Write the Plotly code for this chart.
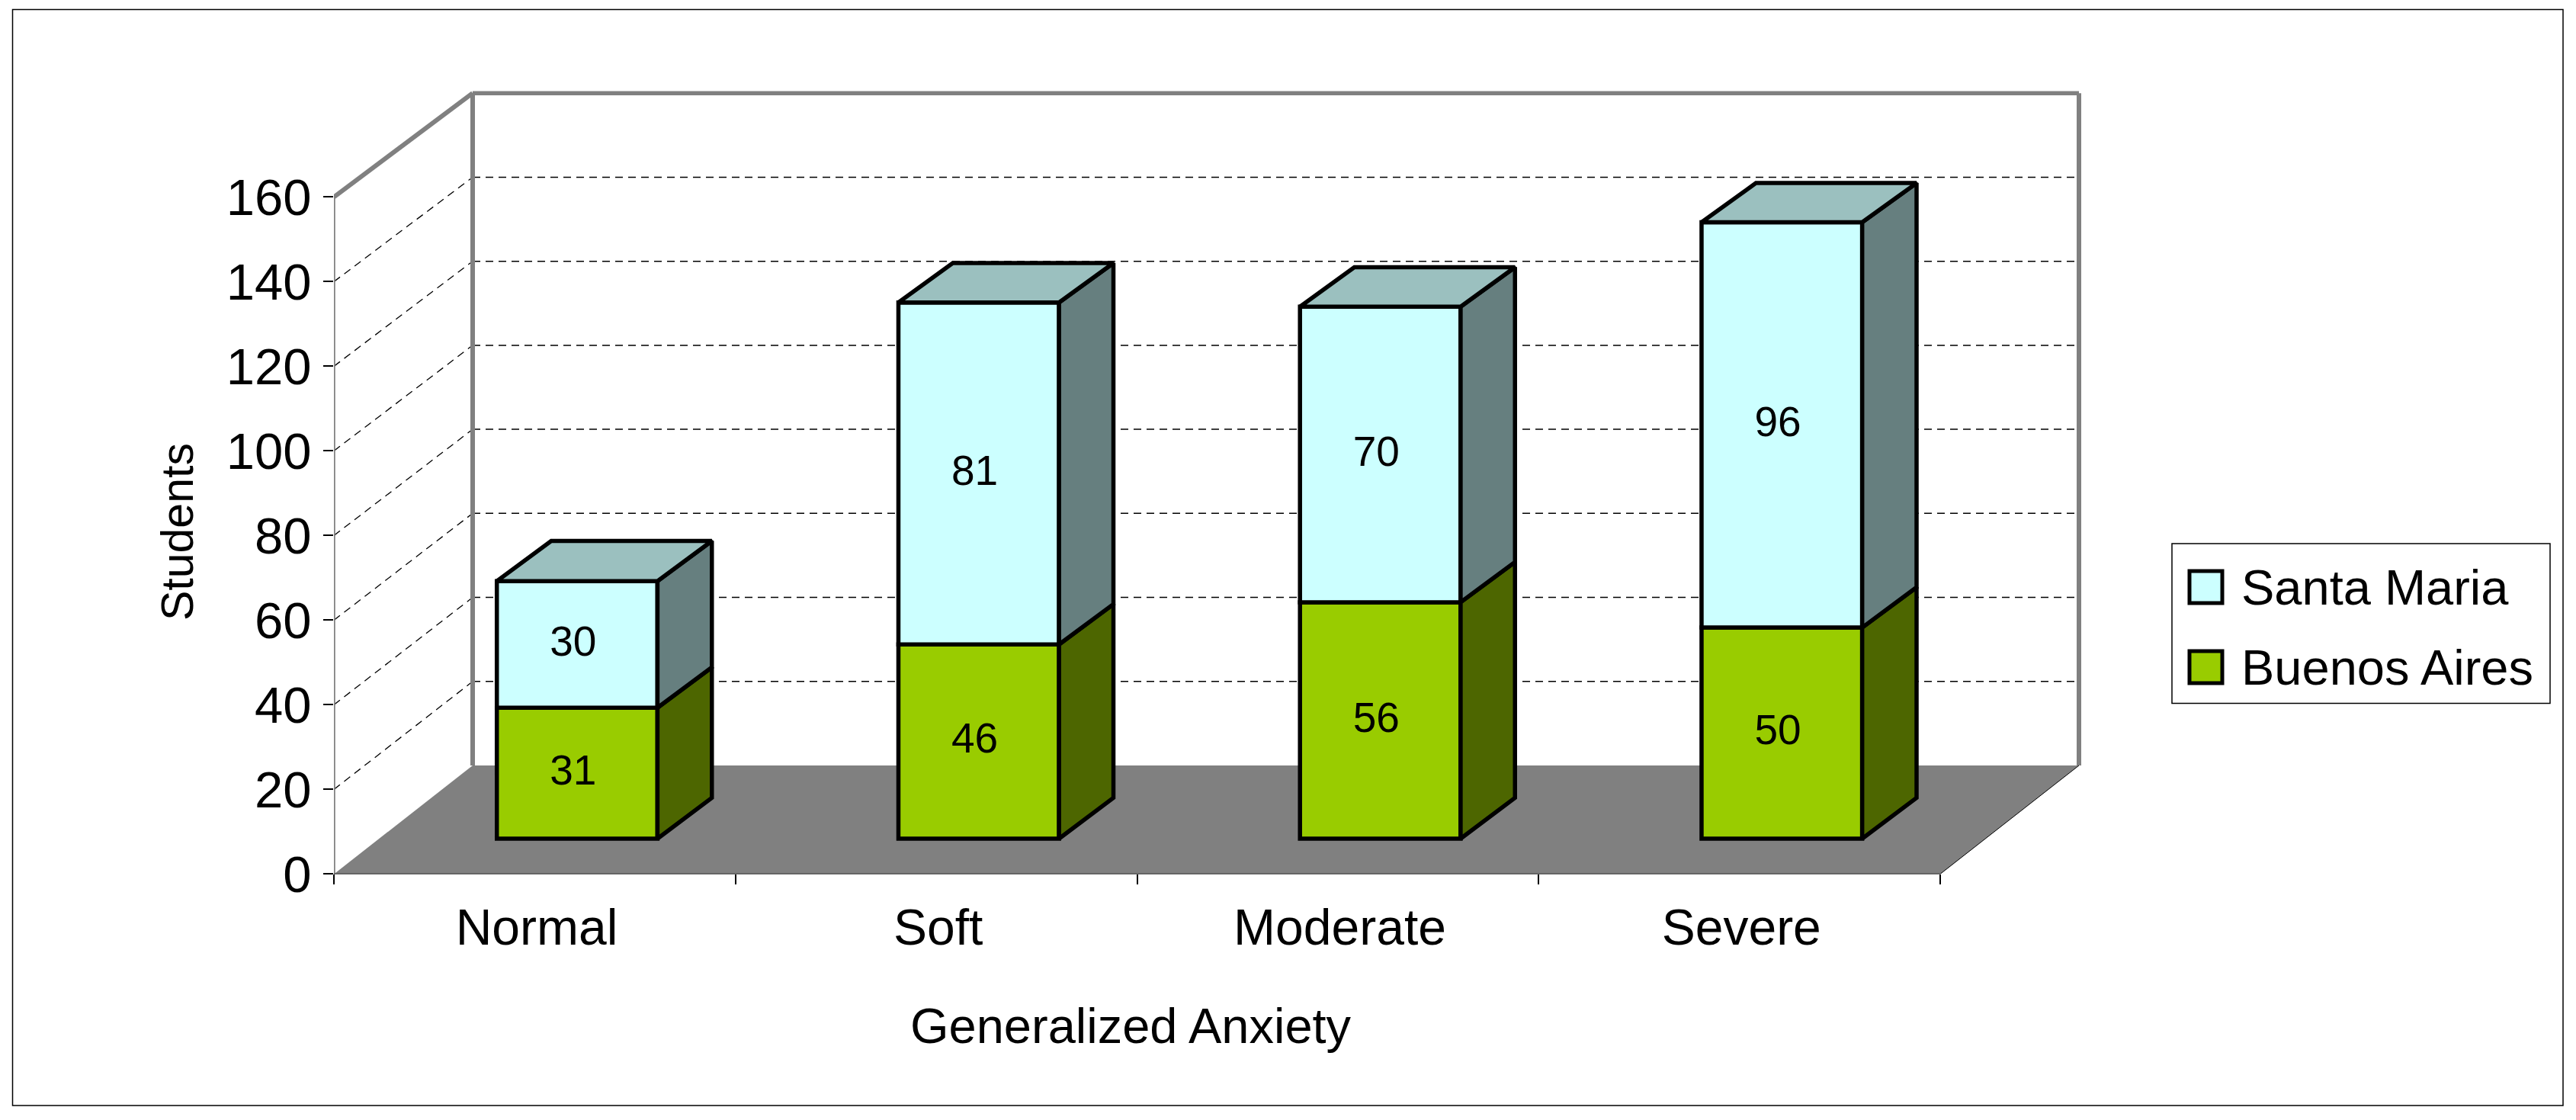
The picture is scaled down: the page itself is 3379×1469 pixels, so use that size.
import plotly.graph_objects as go

# ---- data ----
categories = ["Normal", "Soft", "Moderate", "Severe"]
buenos_aires = [31, 46, 56, 50]
santa_maria = [30, 81, 70, 96]
y_ticks = [0, 20, 40, 60, 80, 100, 120, 140, 160]

# ---- geometry of the pseudo-3D box ----
W, H = 3379, 1469
AX_L, AX_R, AX_T, AX_B = 438, 2740, 100, 1146.4
BAND = 526.75
UNIT = 5.55
N = len(categories)
WALL_DX = 182 / BAND
WALL_DY = 142.4 / UNIT
BACK_K = 0.993
BAR_W = 0.4
BAR_TX0, BAR_TX1 = 0.306, 0.698
BAR_TY0, BAR_TY1 = 0.326, 0.702
LABEL_DX, LABEL_DY = -0.01, -0.2
FONT = "Liberation Sans"
EDGE = 5.5


def px(x):
    return x / W


def py(y):
    return 1 - y / H


def yy(v, t):
    return v * (1 + (BACK_K - 1) * t) + WALL_DY * t


def xx(x, t):
    return x + WALL_DX * t


fig = go.Figure()

lower = [0] * N
tops = [a + b for a, b in zip(buenos_aires, santa_maria)]
xc = [i + 0.5 + WALL_DX * BAR_TX0 for i in range(N)]


def bar(name, vals, base, color):
    fig.add_trace(go.Bar(
        x=xc, y=[yy(v + b, BAR_TY0) - yy(b, BAR_TY0) for v, b in zip(vals, base)],
        base=[yy(b, BAR_TY0) for b in base], width=BAR_W, name=name,
        marker=dict(color=color, line=dict(color="black", width=EDGE)),
        hoverinfo="skip", showlegend=False))


bar("Buenos Aires", buenos_aires, lower, "#99CC00")
bar("Santa Maria", santa_maria, buenos_aires, "#CCFFFF")


def side(name, lo, hi, color):
    xs, ys = [], []
    for i in range(N):
        xr = xc[i] + BAR_W / 2
        xb = xr + WALL_DX * (BAR_TX1 - BAR_TX0)
        xs += [xr, xb, xb, xr, xr, None]
        ys += [yy(lo[i], BAR_TY0), yy(lo[i], BAR_TY1), yy(hi[i], BAR_TY1), yy(hi[i], BAR_TY0), yy(lo[i], BAR_TY0), None]
    fig.add_trace(go.Scatter(x=xs, y=ys, mode="lines", fill="toself", fillcolor=color, name=name,
                             line=dict(color="black", width=EDGE), hoverinfo="skip", showlegend=False))


side("Buenos Aires side", lower, buenos_aires, "#4D6600")
side("Santa Maria side", buenos_aires, tops, "#667F7F")

xs, ys = [], []
for i in range(N):
    xl, xr = xc[i] - BAR_W / 2, xc[i] + BAR_W / 2
    d = WALL_DX * (BAR_TX1 - BAR_TX0)
    y0, y1 = yy(tops[i], BAR_TY0), yy(tops[i], BAR_TY1)
    xs += [xl, xr, xr + d, xl + d, xl, None]
    ys += [y0, y0, y1, y1, y0, None]
fig.add_trace(go.Scatter(x=xs, y=ys, mode="lines", fill="toself", fillcolor="#9BC0BF", name="Santa Maria top",
                         line=dict(color="black", width=EDGE), hoverinfo="skip", showlegend=False))

# value labels on the front faces
for name, vals, base in [("Buenos Aires labels", buenos_aires, lower), ("Santa Maria labels", santa_maria, buenos_aires)]:
    fig.add_trace(go.Scatter(
        x=[c + LABEL_DX for c in xc],
        y=[yy(b + v / 2, BAR_TY0) + LABEL_DY for v, b in zip(vals, base)],
        mode="text", text=[str(v) for v in vals], textposition="middle center", name=name,
        textfont=dict(family=FONT, size=55, color="black"), hoverinfo="skip", showlegend=False))

# ---- box: floor, walls, gridlines ----
shapes = []
GREY = "#808080"


def line(x0, y0, x1, y1, color, width, dash=None, layer="below"):
    shapes.append(dict(type="line", xref="x", yref="y", x0=x0, y0=y0, x1=x1, y1=y1, layer=layer,
                       line=dict(color=color, width=width, dash=dash)))


shapes.append(dict(type="path", xref="x", yref="y", layer="below", fillcolor=GREY, line=dict(width=0),
                   path=f"M 0 0 L {xx(0,1)} {yy(0,1)} L {xx(N,1)} {yy(0,1)} L {N} 0 Z"))
for v in y_ticks[1:-1]:
    line(0, v, xx(0, 1), yy(v, 1), "black", 1.3, "10px,7px")
    line(xx(0, 1), yy(v, 1), xx(N, 1), yy(v, 1), "black", 1.5, "10px,7px")
vmax = y_ticks[-1]
line(0, 0, 0, vmax, GREY, 3.5)
line(0, vmax, xx(0, 1), yy(vmax, 1), GREY, 6)
line(xx(0, 1), yy(vmax, 1), xx(N, 1), yy(vmax, 1), GREY, 5.5)
line(xx(0, 1), yy(0, 1), xx(0, 1), yy(vmax, 1), GREY, 6)
line(xx(N, 1), yy(0, 1), xx(N, 1), yy(vmax, 1), GREY, 6)
line(0, 0, N, 0, "black", 1.5)
line(N, 0, xx(N, 1), yy(0, 1), "black", 1)

# outer frame
shapes.append(dict(type="rect", xref="paper", yref="paper", x0=px(16.5), x1=px(3362), y0=py(12.5), y1=py(1450),
                   line=dict(color="black", width=1.5), layer="below"))

# hand-sized legend: the library's swatch cannot reach this size
LEG = [("Santa Maria", "#CCFFFF", 770), ("Buenos Aires", "#99CC00", 875)]
shapes.append(dict(type="rect", xref="paper", yref="paper", x0=px(2849), x1=px(3345), y0=py(713), y1=py(922.5),
                   line=dict(color="black", width=1.5), fillcolor="white"))
annotations = []
for name, color, yc in LEG:
    shapes.append(dict(type="rect", xref="paper", yref="paper", x0=px(2872), x1=px(2915), y0=py(yc - 21), y1=py(yc + 21),
                       fillcolor=color, line=dict(color="black", width=5)))
    annotations.append(dict(text=name, xref="paper", yref="paper", x=px(2938), y=py(yc), xanchor="left", yanchor="middle",
                            showarrow=False, font=dict(family=FONT, size=65, color="black")))

annotations.append(dict(text="Generalized Anxiety", xref="paper", yref="paper", x=px(1483), y=py(1345),
                        xanchor="center", yanchor="middle", showarrow=False,
                        font=dict(family=FONT, size=65, color="black")))
annotations.append(dict(text="Students", xref="paper", yref="paper", x=px(233), y=py(698), textangle=-90,
                        xanchor="center", yanchor="middle", showarrow=False,
                        font=dict(family=FONT, size=59, color="black")))

fig.update_layout(
    width=W, height=H, autosize=False, margin=dict(l=0, r=0, t=0, b=0, pad=0),
    paper_bgcolor="white", plot_bgcolor="white", barmode="overlay", showlegend=False,
    font=dict(family=FONT, color="black"), shapes=shapes, annotations=annotations,
    xaxis=dict(domain=[AX_L / W, AX_R / W], range=[0, (AX_R - AX_L) / BAND], automargin=False,
               tickmode="array", tickvals=[i + 0.505 for i in range(N)], ticktext=categories,
               ticks="", showgrid=False, zeroline=False, showline=False, ticklabelstandoff=26,
               tickfont=dict(family=FONT, size=66, color="black"),
               minor=dict(tickmode="array", tickvals=list(range(N + 1)), ticks="outside", ticklen=13,
                          tickwidth=1.5, tickcolor="black", showgrid=False)),
    yaxis=dict(domain=[1 - AX_B / H, 1 - AX_T / H], range=[0, (AX_B - AX_T) / UNIT], automargin=False,
               tickmode="array", tickvals=y_ticks, ticks="outside", ticklen=13, tickwidth=1.5, tickcolor="black",
               showgrid=False, zeroline=False, showline=False, ticklabelstandoff=2,
               tickfont=dict(family=FONT, size=67, color="black")),
)

fig.write_html("out.html", config=dict(displayModeBar=False),
               post_script="document.body.style.margin='0';document.body.style.overflow='hidden';")
